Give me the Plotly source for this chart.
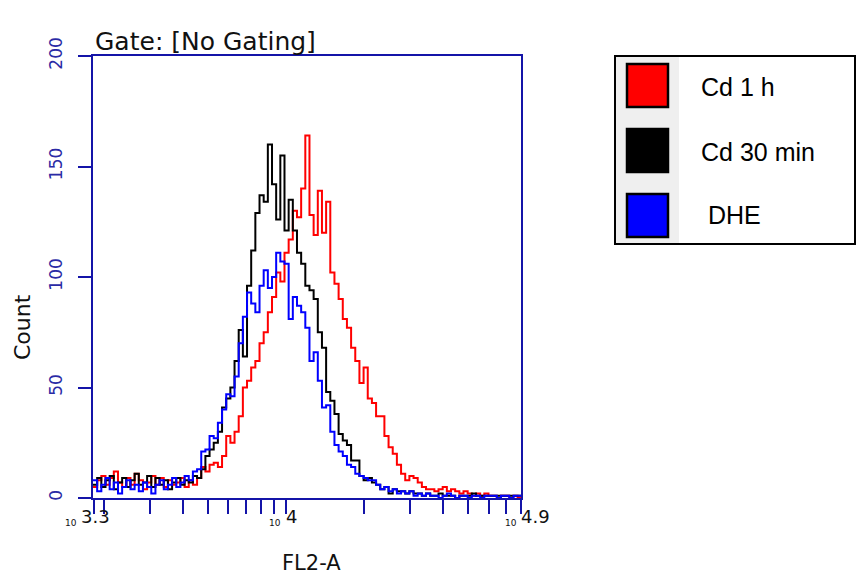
import numpy as np
import plotly.graph_objects as go

# ---------------- data ----------------
# histogram bins on a log10(FL2-A) scale
bin_start_log = 3.258
bin_width_log = 0.016

series_names = ["Cd 1 h", "Cd 30 min", "DHE"]

cd_1h = [5, 8, 10, 6, 9, 12, 7, 5, 9, 6, 11, 8, 4, 7, 10, 6, 9, 5, 8, 6, 7, 9, 5, 8, 6,
         9, 14, 12, 15, 16, 14, 19, 28, 25, 30, 37, 50, 53, 59, 62, 70, 75, 84, 91, 102, 98, 111, 117, 130, 127, 140,
         164, 128, 119, 139, 120, 134, 102, 97, 90, 81, 77, 68, 62, 52, 59, 45, 43, 37, 37, 28,
         23, 20, 15, 11, 8, 10, 9, 7, 5, 4, 4, 3, 4, 5, 3, 4, 3, 2, 3, 2,
         1, 2, 1, 2, 1, 1, 0, 1, 1, 0, 1, 0]

cd_30min = [6, 9, 5, 8, 10, 4, 7, 9, 5, 8, 11, 6, 7, 10, 5, 9, 6, 8, 4, 7, 9, 6, 8, 7, 10,
            9, 13, 19, 22, 25, 30, 41, 45, 50, 62, 76, 64, 96, 112, 129, 137, 134, 160, 142, 126, 155, 121, 135, 121, 111, 106,
            96, 94, 90, 75, 68, 48, 44, 38, 29, 26, 24, 17, 17, 10, 8, 9, 7, 6, 4, 5,
            2, 4, 3, 3, 2, 3, 2, 2, 1, 2, 1, 1, 2, 1, 1, 1, 0, 1, 1, 1,
            2, 1, 1, 1, 1, 1, 1, 1, 1, 1, 1, 1]

dhe = [8, 3, 6, 9, 4, 7, 2, 5, 8, 4, 6, 3, 7, 5, 2, 6, 8, 4, 6, 9, 5, 7, 10, 8, 12,
       13, 21, 22, 28, 27, 34, 40, 47, 46, 55, 70, 82, 93, 88, 84, 96, 103, 95, 100, 111, 107, 106, 81, 91, 87, 84,
       77, 62, 66, 53, 41, 42, 30, 24, 21, 19, 15, 14, 11, 10, 9, 8, 8, 6, 4, 5,
       3, 4, 2, 3, 2, 3, 1, 2, 1, 2, 1, 1, 0, 1, 2, 1, 0, 1, 1, 0,
       1, 1, 0, 1, 1, 1, 0, 1, 1, 0, 1, 1]

series_values = [cd_1h, cd_30min, dhe]
series_colors = ["#ff0000", "#000000", "#0000ff"]

x_minor_ticks = [1820, 2000, 3000, 4000, 5000, 6000, 7000, 8000, 9000, 10000,
                 20000, 30000, 40000, 50000, 60000, 70000, 80000]
x_tick_labels = ["3.3", "4", "4.9"]
y_ticks = [0, 50, 100, 150, 200]

x_range_log = [3.258, 4.903]
y_range = [0, 200]

# ---------------- layout geometry ----------------
W, H = 857, 575
L, R, T, B = 93, 521, 56, 498
AX = "#1414a8"


def px(xp):
    return (xp - L) / (R - L)


def py(yp):
    return (B - yp) / (B - T)


fig = go.Figure()

n = len(cd_1h)
edges = 10 ** (bin_start_log + bin_width_log * np.arange(n + 1))
for name, vals, col in zip(series_names, series_values, series_colors):
    yv = list(vals) + [vals[-1]]
    fig.add_trace(go.Scatter(x=edges, y=yv, mode="lines", line_shape="hv",
                             line=dict(color=col, width=2), name=name,
                             showlegend=False, hoverinfo="skip"))

fig.update_layout(
    width=W, height=H,
    margin=dict(l=L, r=W - R, t=T, b=H - B, pad=0),
    paper_bgcolor="white", plot_bgcolor="white",
    showlegend=False,
    font=dict(family="DejaVu Sans", color="#000"),
)

fig.update_xaxes(type="log", range=x_range_log, tickvals=x_minor_ticks,
                 showticklabels=False,
                 ticks="outside", ticklen=14, tickwidth=2, tickcolor=AX,
                 showline=True, linecolor=AX, linewidth=2, mirror=True,
                 showgrid=False, zeroline=False)
fig.update_yaxes(range=y_range, tickvals=y_ticks, ticks="outside", ticklen=13,
                 tickwidth=2, tickcolor=AX, showline=True, linecolor=AX, linewidth=2,
                 mirror=True, showgrid=False, zeroline=False, tickangle=-90,
                 ticklabelstandoff=9,
                 tickfont=dict(family="DejaVu Sans", size=17, color="#2a2aa5"))

ann = []
# x tick labels: small "10" base followed by the exponent
for lab, x10, xe in zip(x_tick_labels, [71, 275, 511], [79, 284, 519]):
    ann.append(dict(x=px(x10), y=py(523), xref="paper", yref="paper",
                    xanchor="center", yanchor="middle", showarrow=False, text="10",
                    font=dict(family="DejaVu Sans", size=9, color="#111")))
    ann.append(dict(x=px(xe), y=py(516), xref="paper", yref="paper",
                    xanchor="left", yanchor="middle", showarrow=False, text=lab,
                    font=dict(family="DejaVu Sans", size=18, color="#111")))
ann.append(dict(x=px(311), y=py(563), xref="paper", yref="paper", xanchor="center",
                yanchor="middle", showarrow=False, text="FL2-A",
                font=dict(family="DejaVu Sans", size=21, color="#111")))
ann.append(dict(x=px(22), y=py(327), xref="paper", yref="paper", xanchor="center",
                yanchor="middle", showarrow=False, text="Count", textangle=-90,
                font=dict(family="DejaVu Sans", size=22, color="#111")))
ann.append(dict(x=px(93), y=py(42), xref="paper", yref="paper", xanchor="left",
                yanchor="middle", showarrow=False, text="Gate: [No Gating]",
                font=dict(family="DejaVu Sans", size=25, color="#111")))

# legend (drawn)
shapes = []
shapes.append(dict(type="rect", xref="paper", yref="paper", x0=px(615), x1=px(855),
                   y0=py(244), y1=py(56), fillcolor="white", line=dict(color="#000", width=2)))
shapes.append(dict(type="rect", xref="paper", yref="paper", x0=px(616), x1=px(679),
                   y0=py(243), y1=py(57), fillcolor="#efefef", line=dict(width=0)))
sq_y = [(64, 107), (129, 172), (194, 237)]
txt_y = [87, 152, 215]
txt_x = [699, 699, 706]
txt = ["Cd 1 h", "Cd 30 min", "DHE"]
for (y0, y1), col, ty, tx, t in zip(sq_y, series_colors, txt_y, txt_x, txt):
    shapes.append(dict(type="rect", xref="paper", yref="paper", x0=px(627), x1=px(668),
                       y0=py(y1), y1=py(y0), fillcolor=col, line=dict(color="#000", width=2.5)))
    ann.append(dict(x=px(tx), y=py(ty), xref="paper", yref="paper", xanchor="left",
                    yanchor="middle", showarrow=False, text=t,
                    font=dict(family="Liberation Sans", size=25, color="#000")))

fig.update_layout(annotations=ann, shapes=shapes)
fig.write_html("out.html", config={"displayModeBar": False},
               post_script="document.body.style.margin='0';")
